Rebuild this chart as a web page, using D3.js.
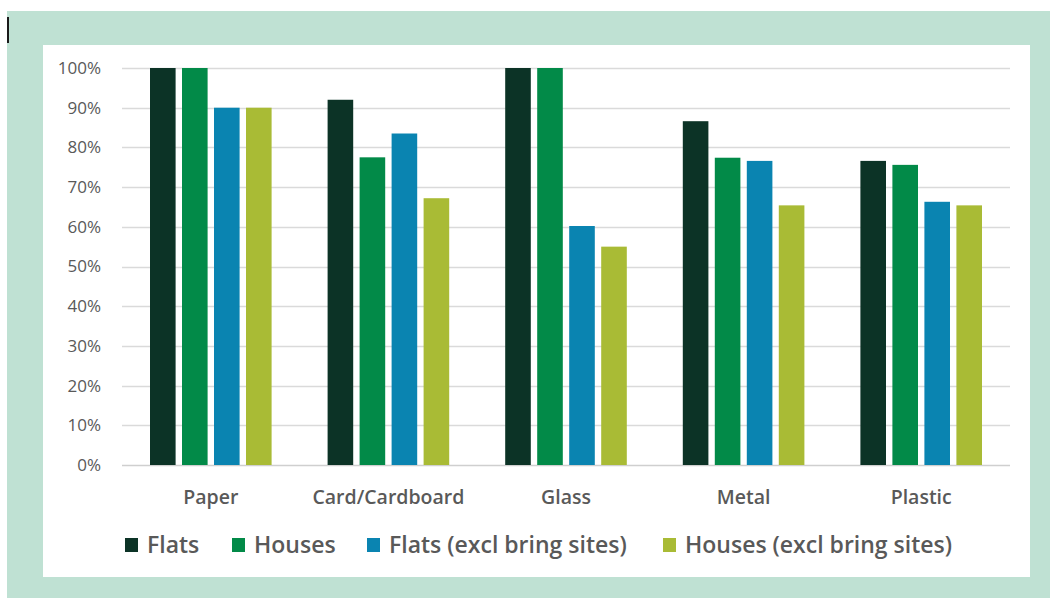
<!DOCTYPE html>
<html>
<head>
<meta charset="utf-8">
<script src="https://cdn.jsdelivr.net/npm/d3@7"></script>
<style>
  html, body { margin: 0; padding: 0; background: #ffffff; }
  svg { display: block; }
</style>
</head>
<body>
<svg id="chart" width="1050" height="598"></svg>
<script>
// Recycling capture rates by material
const categories = ["Paper", "Card/Cardboard", "Glass", "Metal", "Plastic"];
const seriesNames = ["Flats", "Houses", "Flats (excl bring sites)", "Houses (excl bring sites)"];
const flats = [100, 92, 100, 86.6, 76.6];
const houses = [100, 77.5, 100, 77.4, 75.6];
const flatsExcl = [90, 83.5, 60.2, 76.6, 66.3];
const housesExcl = [90, 67.2, 55, 65.4, 65.4];
const yTicks = [0, 10, 20, 30, 40, 50, 60, 70, 80, 90, 100];
const colors = ["#0c3326", "#028a48", "#0a84b1", "#a9bb35"];

const seriesValues = [flats, houses, flatsExcl, housesExcl];
const rows = categories.map((c, i) => ({
  category: c,
  values: seriesNames.map((s, j) => ({ series: s, value: seriesValues[j][i], color: colors[j] }))
}));

const font = "'Open Sans', Lato, sans-serif";
const textGrey = "#595959";
const svg = d3.select("#chart");

// Frame: light green backdrop with a white chart panel
svg.append("rect").attr("x", 0).attr("y", 0).attr("width", 1050).attr("height", 598).attr("fill", "#ffffff");
svg.append("rect").attr("x", 7).attr("y", 11).attr("width", 1043).attr("height", 587).attr("fill", "#bfe1d3");
svg.append("rect").attr("x", 43).attr("y", 45).attr("width", 987).attr("height", 532).attr("fill", "#ffffff");
svg.append("rect").attr("x", 7).attr("y", 17).attr("width", 2).attr("height", 26).attr("fill", "#1a1a1a");

const plot = { left: 122, right: 1010, top: 68, bottom: 465 };

const y = d3.scaleLinear().domain([0, 100]).range([plot.bottom, plot.top]);
const x0 = d3.scaleBand().domain(categories).range([plot.left, plot.right]).padding(0);
const groupW = 121.6;
const x1 = d3.scaleBand().domain(seriesNames)
  .range([(x0.bandwidth() - groupW) / 2, (x0.bandwidth() + groupW) / 2])
  .paddingInner(0.2).paddingOuter(0);

// Horizontal gridlines
svg.append("g")
  .selectAll("line")
  .data(yTicks)
  .join("line")
  .attr("x1", plot.left).attr("x2", plot.right)
  .attr("y1", d => Math.round(y(d)) + 0.5).attr("y2", d => Math.round(y(d)) + 0.5)
  .attr("stroke", d => d === 0 ? "#cfcfcf" : "#dadada")
  .attr("stroke-width", 1.3);

// Y axis labels
const yAxis = d3.axisLeft(y).tickValues(yTicks).tickFormat(d => d + "%").tickSize(0).tickPadding(0);
const yg = svg.append("g").attr("transform", `translate(${plot.left - 21},0)`).call(yAxis);
yg.select(".domain").remove();
yg.selectAll("text")
  .attr("font-family", font)
  .attr("font-size", 17)
  .attr("fill", textGrey);

// Bars
const groups = svg.append("g")
  .selectAll("g")
  .data(rows)
  .join("g")
  .attr("transform", d => `translate(${x0(d.category)},0)`);

groups.selectAll("rect")
  .data(d => d.values)
  .join("rect")
  .attr("x", d => x1(d.series))
  .attr("width", x1.bandwidth())
  .attr("y", d => y(d.value))
  .attr("height", d => y(0) - y(d.value))
  .attr("fill", d => d.color);

// Category labels
const xAxis = d3.axisBottom(x0).tickSize(0).tickPadding(0);
const xg = svg.append("g").attr("transform", `translate(0,${plot.bottom + 32})`).call(xAxis);
xg.select(".domain").remove();
xg.selectAll("text")
  .attr("font-family", font)
  .attr("font-size", 19.5)
  .attr("font-weight", 600)
  .attr("fill", textGrey)
  .attr("dy", "0.35em");

// Legend
const legendX = [125, 232, 367, 663];
const legend = svg.append("g")
  .selectAll("g")
  .data(seriesNames)
  .join("g")
  .attr("transform", (d, i) => `translate(${legendX[i]},545)`);
legend.append("rect")
  .attr("x", 0).attr("y", -7).attr("width", 13).attr("height", 14)
  .attr("fill", (d, i) => colors[i]);
legend.append("text")
  .attr("x", 22).attr("y", 0).attr("dy", "0.35em")
  .attr("font-family", font)
  .attr("font-size", 23)
  .attr("font-weight", 600)
  .attr("fill", textGrey)
  .text(d => d);
</script>
</body>
</html>
